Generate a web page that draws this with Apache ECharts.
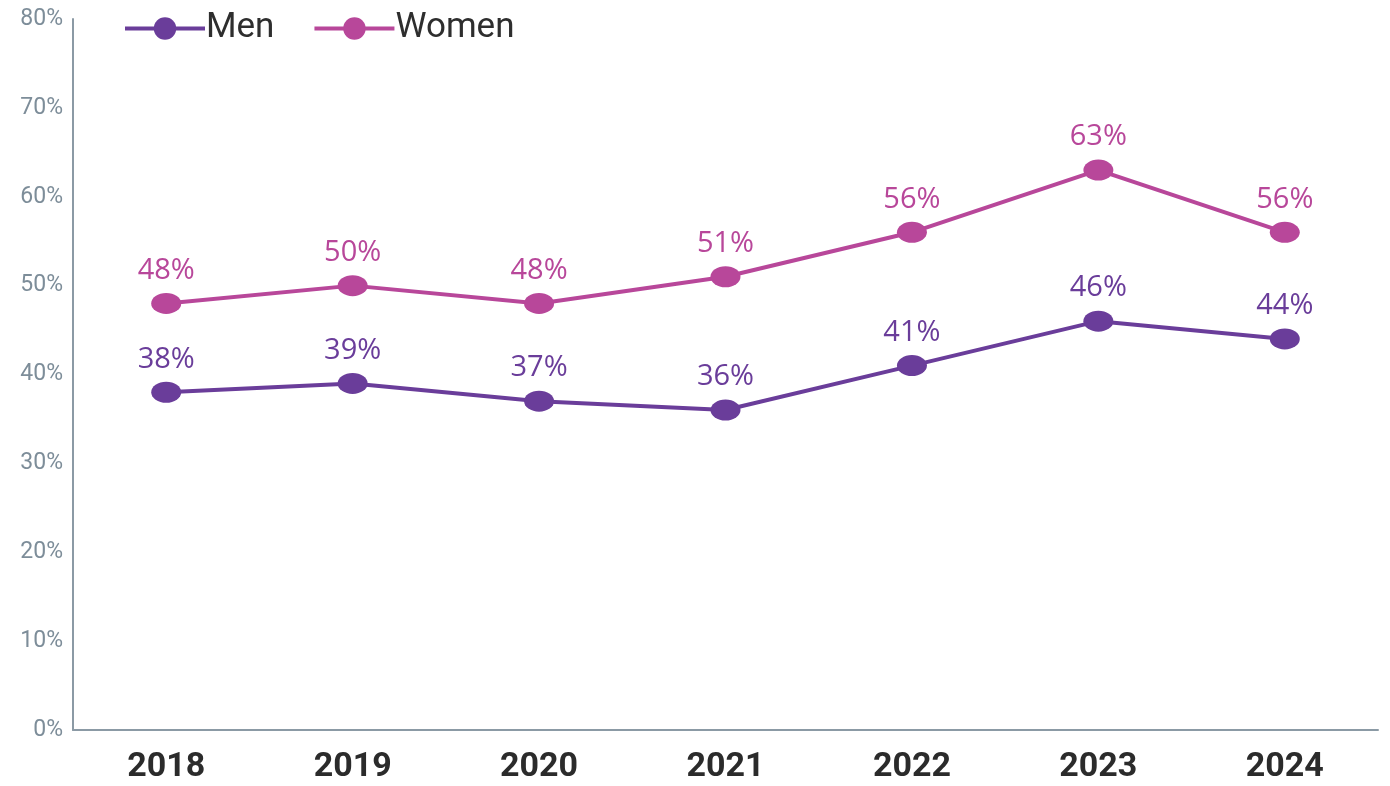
<!DOCTYPE html>
<html><head><meta charset="utf-8">
<script src="https://cdn.jsdelivr.net/npm/echarts@6/dist/echarts.min.js"></script>
<style>html,body{margin:0;padding:0;background:#fff}#c{width:1390px;height:786px}</style>
</head><body><div id="c"></div>
<script>
const years = ['2018','2019','2020','2021','2022','2023','2024'];
const men = [38,39,37,36,41,46,44];
const women = [48,50,48,51,56,63,56];
const yTicks = [0,10,20,30,40,50,60,70,80];

const chart = echarts.init(document.getElementById('c'));
const labelFont = "'Open Sans',sans-serif";
function series(name, data, color){
  return {
    name, type:'line', data,
    symbol:'circle', symbolSize:[30,21],
    lineStyle:{color, width:4},
    itemStyle:{color},
    label:{show:true, position:'top', distance:8, formatter:'{c}%', color, fontSize:29, fontFamily:labelFont},
    emphasis:{disabled:true}
  };
}
chart.setOption({
  animation:false,
  legend:{
    left:118, top:6, itemWidth:80, itemHeight:28, itemGap:38,
    lineStyle:{width:4},
    textStyle:{fontSize:35, color:'#2e2e2e', fontFamily:"'Roboto',sans-serif", padding:[6,0,0,-4]},
    data:['Men','Women']
  },
  grid:{left:73, right:12, top:19, bottom:56},
  xAxis:{
    type:'category', data:years, boundaryGap:true,
    axisLine:{lineStyle:{color:'#8b9aa5', width:2}},
    axisTick:{show:false},
    axisLabel:{fontSize:34, fontWeight:'bold', color:'#2b2b2b', margin:20, fontFamily:"'Roboto',sans-serif"}
  },
  yAxis:{
    type:'value', min:yTicks[0], max:yTicks[yTicks.length-1], interval:10,
    axisLine:{show:true, lineStyle:{color:'#8b9aa5', width:2}},
    axisTick:{show:false},
    splitLine:{show:false},
    axisLabel:{formatter:'{value}%', fontSize:23, color:'#7d8d99', margin:10, fontFamily:"'Roboto',sans-serif"}
  },
  series:[series('Men', men, '#6a3d9a'), series('Women', women, '#b8479a')]
});
</script></body></html>
